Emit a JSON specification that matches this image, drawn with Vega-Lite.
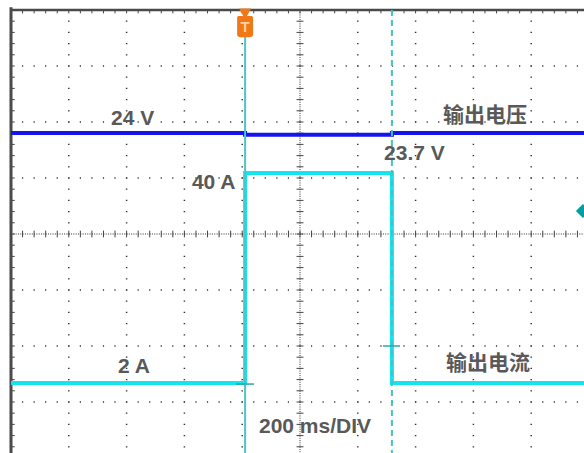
{
  "$schema": "https://vega.github.io/schema/vega-lite/v6.json",
  "width": 573,
  "height": 443,
  "autosize": {"type": "none"},
  "padding": {"left": 11, "top": 10, "right": 0, "bottom": 0},
  "background": "white",
  "config": {"view": {"stroke": null}},
  "datasets": {
    "sx": [{"t":0},{"t":40},{"t":80},{"t":120},{"t":160},{"t":200},{"t":240},{"t":280},{"t":320},{"t":360},{"t":400},{"t":440},{"t":480},{"t":520},{"t":560},{"t":600},{"t":640},{"t":680},{"t":720},{"t":760},{"t":800},{"t":840},{"t":880},{"t":920},{"t":960},{"t":1000},{"t":1040},{"t":1080},{"t":1120},{"t":1160},{"t":1200},{"t":1240},{"t":1280},{"t":1320},{"t":1360},{"t":1400},{"t":1440},{"t":1480},{"t":1520},{"t":1560},{"t":1600},{"t":1640},{"t":1680},{"t":1720},{"t":1760},{"t":1800},{"t":1840},{"t":1880},{"t":1920},{"t":1960}],
    "sy": [{"d":3.8},{"d":3.6},{"d":3.4},{"d":3.2},{"d":3.0},{"d":2.8},{"d":2.6},{"d":2.4},{"d":2.2},{"d":2.0},{"d":1.8},{"d":1.6},{"d":1.4},{"d":1.2},{"d":1.0},{"d":0.8},{"d":0.6},{"d":0.4},{"d":0.2},{"d":0.0},{"d":-0.2},{"d":-0.4},{"d":-0.6},{"d":-0.8},{"d":-1.0},{"d":-1.2},{"d":-1.4},{"d":-1.6},{"d":-1.8},{"d":-2.0},{"d":-2.2},{"d":-2.4},{"d":-2.6},{"d":-2.8},{"d":-3.0},{"d":-3.2},{"d":-3.4},{"d":-3.6},{"d":-3.8}],
    "majorx": [{"t":200},{"t":400},{"t":600},{"t":800},{"t":1200},{"t":1400},{"t":1600},{"t":1800}],
    "majory": [{"d":3},{"d":2},{"d":1},{"d":-1},{"d":-2},{"d":-3}],
    "volt": [{"i":1,"t":0,"v":24.0},{"i":2,"t":810,"v":24.0},{"i":3,"t":810,"v":23.7},{"i":4,"t":1318,"v":23.7},{"i":5,"t":1318,"v":24.0},{"i":6,"t":1983,"v":24.0}],
    "amp": [{"i":1,"t":0,"a":2},{"i":2,"t":810,"a":2},{"i":3,"t":810,"a":40},{"i":4,"t":1318,"a":40},{"i":5,"t":1318,"a":2},{"i":6,"t":1983,"a":2}],
    "labels": [
      {"txt":"24 V","t":346,"d":1.946},
      {"txt":"输出电压","t":1495,"d":2.0},
      {"txt":"23.7 V","t":1291,"d":1.321},
      {"txt":"40 A","t":626,"d":0.804},
      {"txt":"2 A","t":370,"d":-2.482},
      {"txt":"输出电流","t":1505,"d":-2.429},
      {"txt":"200 ms/DIV","t":858,"d":-3.554}
    ]
  },
  "layer": [
    {
      "layer": [
        {
          "data": {"name": "majorx"},
          "mark": {"type": "rule", "color": "#333333", "strokeWidth": 1.5, "strokeDash": [1.2, 10], "strokeDashOffset": 0.6},
          "encoding": {
            "x": {"field": "t", "type": "quantitative", "axis": null, "scale": {"domain": [0, 1982.7], "nice": false, "zero": false}},
            "y": {"datum": 4, "axis": null, "scale": {"domain": [-3.911, 4], "nice": false, "zero": false}},
            "y2": {"datum": -3.911}
          }
        },
        {
          "data": {"name": "majory"},
          "mark": {"type": "rule", "color": "#333333", "strokeWidth": 1.5, "strokeDash": [1.2, 10.36], "strokeDashOffset": 0.6},
          "encoding": {
            "y": {"field": "d", "type": "quantitative", "axis": null},
            "x": {"datum": 0, "axis": null},
            "x2": {"datum": 1982.7}
          }
        },
        {
          "data": {"values": [{"d": 0}]},
          "mark": {"type": "rule", "color": "#333333", "strokeWidth": 1, "strokeDash": [1, 1.31]},
          "encoding": {
            "y": {"field": "d", "type": "quantitative", "axis": null},
            "x": {"datum": 0, "axis": null},
            "x2": {"datum": 1982.7}
          }
        },
        {
          "data": {"values": [{"t": 1000}]},
          "mark": {"type": "rule", "color": "#333333", "strokeWidth": 1, "strokeDash": [1, 1.24]},
          "encoding": {
            "x": {"field": "t", "type": "quantitative", "axis": null},
            "y": {"datum": 4, "axis": null},
            "y2": {"datum": -3.911}
          }
        },
        {
          "data": {"name": "sx"},
          "mark": {"type": "rule", "color": "#444444", "strokeWidth": 1},
          "encoding": {
            "x": {"field": "t", "type": "quantitative", "axis": null},
            "y": {"datum": 0.06, "axis": null},
            "y2": {"datum": -0.06}
          }
        },
        {
          "data": {"name": "sy"},
          "mark": {"type": "rule", "color": "#444444", "strokeWidth": 1},
          "encoding": {
            "y": {"field": "d", "type": "quantitative", "axis": null},
            "x": {"datum": 988, "axis": null},
            "x2": {"datum": 1012}
          }
        },
        {
          "data": {"name": "sx"},
          "mark": {"type": "rule", "color": "#444444", "strokeWidth": 1},
          "encoding": {
            "x": {"field": "t", "type": "quantitative", "axis": null},
            "y": {"datum": 4, "axis": null},
            "y2": {"datum": 3.94}
          }
        },
        {
          "data": {"name": "sy"},
          "mark": {"type": "rule", "color": "#444444", "strokeWidth": 1},
          "encoding": {
            "y": {"field": "d", "type": "quantitative", "axis": null},
            "x": {"datum": 0, "axis": null},
            "x2": {"datum": 13}
          }
        },
        {
          "data": {"values": [{"d": 4}]},
          "mark": {"type": "rule", "color": "#4a4a4a", "strokeWidth": 2.5},
          "encoding": {
            "y": {"field": "d", "type": "quantitative", "axis": null},
            "x": {"datum": 0, "axis": null},
            "x2": {"datum": 1982.7}
          }
        },
        {
          "data": {"values": [{"t": 0}]},
          "mark": {"type": "rule", "color": "#4a4a4a", "strokeWidth": 3},
          "encoding": {
            "x": {"field": "t", "type": "quantitative", "axis": null},
            "y": {"datum": 4.05, "axis": null},
            "y2": {"datum": -3.911}
          }
        }
      ]
    },
    {
      "data": {"name": "volt"},
      "mark": {"type": "line", "color": "#1414ee", "strokeWidth": 4, "interpolate": "linear"},
      "encoding": {
        "x": {"field": "t", "type": "quantitative", "axis": null},
        "y": {"field": "v", "type": "quantitative", "axis": null, "scale": {"domain": [-33.15, 45.96], "nice": false, "zero": false}},
        "order": {"field": "i", "type": "quantitative"}
      }
    },
    {
      "data": {"name": "amp"},
      "mark": {"type": "line", "color": "#14e4f0", "strokeWidth": 4, "interpolate": "linear"},
      "encoding": {
        "x": {"field": "t", "type": "quantitative", "axis": null},
        "y": {"field": "a", "type": "quantitative", "axis": null, "scale": {"domain": [-10.67, 69.5], "nice": false, "zero": false}},
        "order": {"field": "i", "type": "quantitative"}
      }
    },
    {
      "layer": [
        {
          "data": {"values": [{"t": 810}]},
          "mark": {"type": "rule", "color": "#4cc6c6", "strokeWidth": 2},
          "encoding": {
            "x": {"field": "t", "type": "quantitative", "axis": null},
            "y": {"datum": 4, "axis": null, "scale": {"domain": [-3.911, 4], "nice": false, "zero": false}},
            "y2": {"datum": -3.911}
          }
        },
        {
          "data": {"values": [{"t": 1318}]},
          "mark": {"type": "rule", "color": "#40c4c4", "strokeWidth": 2, "strokeDash": [6, 4]},
          "encoding": {
            "x": {"field": "t", "type": "quantitative", "axis": null},
            "y": {"datum": 4, "axis": null},
            "y2": {"datum": -3.911}
          }
        },
        {
          "data": {"values": [{"t0": 778, "t1": 841, "d": -2.68}, {"t0": 1287, "t1": 1346, "d": -2.0}]},
          "mark": {"type": "rule", "color": "#2aa8a8", "strokeWidth": 1.5},
          "encoding": {
            "x": {"field": "t0", "type": "quantitative", "axis": null},
            "x2": {"field": "t1"},
            "y": {"field": "d", "type": "quantitative", "axis": null}
          }
        },
        {
          "data": {"values": [{"t": 810, "d": 3.93}]},
          "mark": {"type": "point", "shape": "triangle-down", "filled": true, "color": "#f07818", "size": 150, "opacity": 1},
          "encoding": {
            "x": {"field": "t", "type": "quantitative", "axis": null},
            "y": {"field": "d", "type": "quantitative", "axis": null}
          }
        },
        {
          "data": {"values": [{"t": 810, "d": 3.705}]},
          "mark": {"type": "point", "shape": "M -0.75 -0.85 Q -0.75 -1 -0.6 -1 L 0.6 -1 Q 0.75 -1 0.75 -0.85 L 0.75 0.75 Q 0.75 1 0.4 1 L -0.4 1 Q -0.75 1 -0.75 0.75 Z", "filled": true, "color": "#f07818", "size": 450, "opacity": 1},
          "encoding": {
            "x": {"field": "t", "type": "quantitative", "axis": null},
            "y": {"field": "d", "type": "quantitative", "axis": null}
          }
        },
        {
          "data": {"values": [{"t": 810, "d": 3.705, "s": "T"}]},
          "mark": {"type": "text", "color": "#ffd0a0", "fontSize": 15, "fontWeight": "bold", "font": "Liberation Sans", "align": "center", "baseline": "middle"},
          "encoding": {
            "x": {"field": "t", "type": "quantitative", "axis": null},
            "y": {"field": "d", "type": "quantitative", "axis": null},
            "text": {"field": "s"}
          }
        },
        {
          "data": {"values": [{"t": 1979, "d": 0.41}]},
          "mark": {"type": "point", "shape": "diamond", "filled": true, "color": "#00a0a0", "size": 200, "opacity": 1},
          "encoding": {
            "x": {"field": "t", "type": "quantitative", "axis": null},
            "y": {"field": "d", "type": "quantitative", "axis": null}
          }
        },
        {
          "data": {"name": "labels"},
          "mark": {"type": "text", "color": "#595959", "fontSize": 21, "fontWeight": "bold", "font": "Liberation Sans, Noto Sans CJK SC, sans-serif", "align": "left", "baseline": "alphabetic"},
          "encoding": {
            "x": {"field": "t", "type": "quantitative", "axis": null},
            "y": {"field": "d", "type": "quantitative", "axis": null},
            "text": {"field": "txt"}
          }
        }
      ]
    }
  ],
  "resolve": {"scale": {"y": "independent"}}
}
